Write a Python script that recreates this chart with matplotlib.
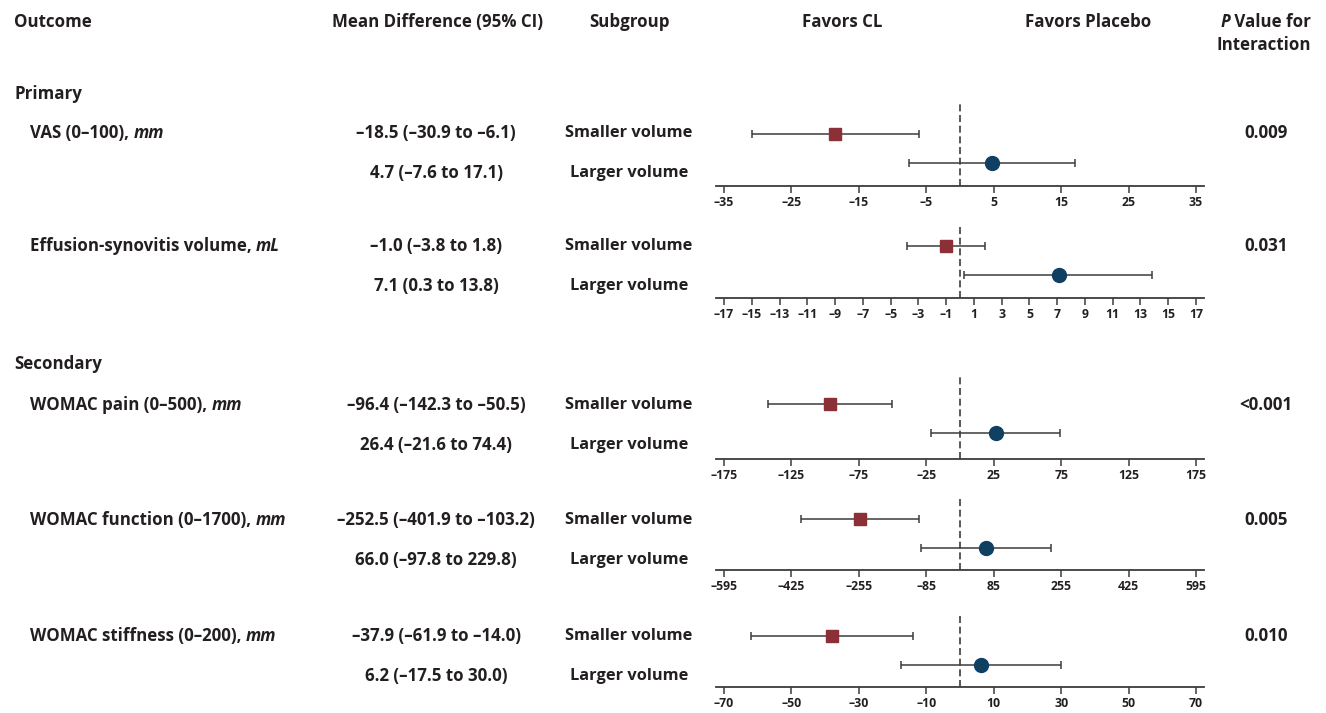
import matplotlib.pyplot as plt

plt.rcParams['font.family'] = ['Open Sans', 'DejaVu Sans']

# data
sections = ["Primary", "Secondary"]
outcomes = ["VAS (0–100), ", "Effusion-synovitis volume, ", "WOMAC pain (0–500), ",
            "WOMAC function (0–1700), ", "WOMAC stiffness (0–200), "]
units = ["mm", "mL", "mm", "mm", "mm"]
subgroups = ["Smaller volume", "Larger volume"]
smaller_md = [-18.5, -1.0, -96.4, -252.5, -37.9]
smaller_lo = [-30.9, -3.8, -142.3, -401.9, -61.9]
smaller_hi = [-6.1, 1.8, -50.5, -103.2, -14.0]
larger_md = [4.7, 7.1, 26.4, 66.0, 6.2]
larger_lo = [-7.6, 0.3, -21.6, -97.8, -17.5]
larger_hi = [17.1, 13.8, 74.4, 229.8, 30.0]
p_values = ["0.009", "0.031", "<0.001", "0.005", "0.010"]
tick_max = [35, 17, 175, 595, 70]
tick_step = [10, 2, 50, 170, 20]

# layout in pixels (figure is 1326 x 713)
W, H = 1326, 713
text_y = [133, 246, 405, 520, 636]
section_y = [94, 364]
head_y = [22, 45]
panel_top = [102, 226, 375, 496, 615]
panel_spine = [186, 298, 459, 570, 687]
row_first = [134, 246, 404, 519, 636]
row_gap = 29
ax_left, ax_right = 716, 1204
tick_inset = 8

TXT = '#231f20'
RED = '#8b3036'
BLUE = '#0f4061'
GREY = '#3c3c3c'
FS = 12.2


def fmt(v):
    return f"{v:.1f}".replace('-', '–')


fig = plt.figure(figsize=(W / 100, H / 100), dpi=100)
bg = fig.add_axes([0, 0, 1, 1])
bg.set_xlim(0, W)
bg.set_ylim(H, 0)
bg.axis('off')

kw = dict(fontsize=FS, fontweight='bold', color=TXT, va='center')
bg.text(14, head_y[0], "Outcome", ha='left', **kw)
bg.text(437, head_y[0], "Mean Difference (95% CI)", ha='center', **kw)
bg.text(629, head_y[0], "Subgroup", ha='center', **kw)
bg.text(842, head_y[0], "Favors CL", ha='center', **kw)
bg.text(1088, head_y[0], "Favors Placebo", ha='center', **kw)
pv = bg.text(1311, head_y[0], " Value for", ha='right', **kw)
bg.text(1311, head_y[1], "Interaction", ha='right', **kw)
bg.text(14, section_y[0], sections[0], ha='left', **kw)
bg.text(14, section_y[1], sections[1], ha='left', **kw)

names = []
for i in range(len(outcomes)):
    y1 = text_y[i]
    y2 = y1 + 40
    names.append(bg.text(30, y1, outcomes[i], ha='left', **kw))
    bg.text(436, y1, f"{fmt(smaller_md[i])} ({fmt(smaller_lo[i])} to {fmt(smaller_hi[i])})", ha='center', **kw)
    bg.text(436, y2, f"{fmt(larger_md[i])} ({fmt(larger_lo[i])} to {fmt(larger_hi[i])})", ha='center', **kw)
    bg.text(629, y1, subgroups[0], ha='center', fontsize=FS - 0.4, fontweight='bold', color=TXT, va='center')
    bg.text(629, y2, subgroups[1], ha='center', fontsize=FS - 0.4, fontweight='bold', color=TXT, va='center')
    bg.text(1266, y1, p_values[i], ha='center', **kw)

# italic pieces placed after measuring the upright text
fig.canvas.draw()
r = fig.canvas.get_renderer()
for i, t in enumerate(names):
    bb = t.get_window_extent(r)
    bg.text(bb.x1, text_y[i], units[i], ha='left', style='italic', **kw)
bb = pv.get_window_extent(r)
bg.text(bb.x0, head_y[0], "P", ha='right', style='italic', **kw)

for i in range(len(outcomes)):
    top, spine, r1 = panel_top[i], panel_spine[i], row_first[i]
    ax = fig.add_axes([ax_left / W, 1 - spine / H, (ax_right - ax_left) / W, (spine - top) / H])
    ax.patch.set_alpha(0)
    L = tick_max[i]
    pad = L * tick_inset / ((ax_right - ax_left) / 2 - tick_inset)
    ax.set_xlim(-L - pad, L + pad)
    ax.set_ylim(-(spine - r1 - row_gap) / row_gap, 1 + (r1 - top) / row_gap)
    ax.axvline(0, color=GREY, lw=1.2, ls=(0, (4.2, 2.2)), zorder=1)
    ax.errorbar([smaller_md[i]], [1],
                xerr=[[smaller_md[i] - smaller_lo[i]], [smaller_hi[i] - smaller_md[i]]],
                fmt='s', color=RED, ms=9, ecolor=GREY, elinewidth=1.1, capsize=2.6,
                capthick=1.1, zorder=3)
    ax.errorbar([larger_md[i]], [0],
                xerr=[[larger_md[i] - larger_lo[i]], [larger_hi[i] - larger_md[i]]],
                fmt='o', color=BLUE, ms=10, ecolor=GREY, elinewidth=1.1, capsize=2.6,
                capthick=1.1, zorder=3)
    ticks = list(range(-L, L + 1, tick_step[i]))
    ax.set_xticks(ticks)
    ax.set_xticklabels([str(t).replace('-', '–') for t in ticks])
    ax.tick_params(axis='x', direction='out', length=5, width=1.1, color=GREY,
                   labelsize=8.8, labelcolor=TXT, pad=2.5)
    for lab in ax.get_xticklabels():
        lab.set_fontweight('bold')
    ax.set_yticks([])
    for s in ['top', 'left', 'right']:
        ax.spines[s].set_visible(False)
    ax.spines['bottom'].set_color(GREY)
    ax.spines['bottom'].set_linewidth(1.3)

fig.savefig('out.png', dpi=100)
